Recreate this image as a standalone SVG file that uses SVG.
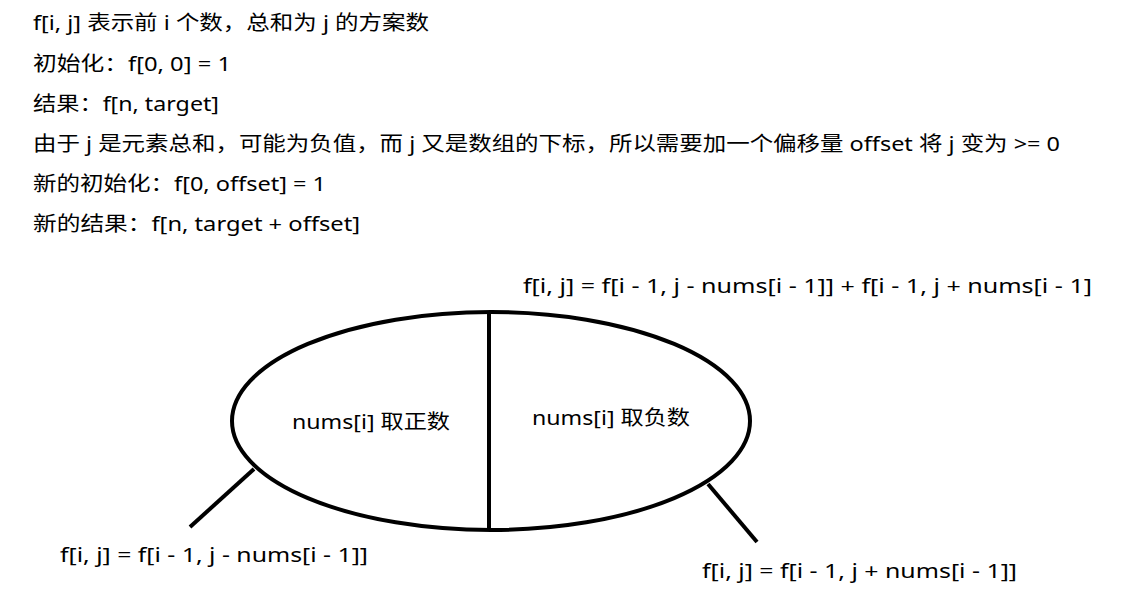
<svg xmlns="http://www.w3.org/2000/svg" width="1141" height="615" viewBox="0 0 1141 615">
<style>
text{font-family:"Noto Sans","Noto Sans CJK SC",sans-serif;font-size:20px;fill:#000}
.s{fill:none;stroke:#000;stroke-width:4}
</style>
<rect width="1141" height="615" fill="#fff"/>
<g id="notes">
<text x="33" y="30" textLength="396" lengthAdjust="spacingAndGlyphs">f[i, j] 表示前 i 个数，总和为 j 的方案数</text>
<text x="33" y="71" textLength="198" lengthAdjust="spacingAndGlyphs">初始化：f[0, 0] = 1</text>
<text x="33" y="111" textLength="186" lengthAdjust="spacingAndGlyphs">结果：f[n, target]</text>
<text x="33" y="151" textLength="1027" lengthAdjust="spacingAndGlyphs">由于 j 是元素总和，可能为负值，而 j 又是数组的下标，所以需要加一个偏移量 offset 将 j 变为 &gt;= 0</text>
<text x="33" y="191" textLength="293" lengthAdjust="spacingAndGlyphs">新的初始化：f[0, offset] = 1</text>
<text x="33" y="231" textLength="327" lengthAdjust="spacingAndGlyphs">新的结果：f[n, target + offset]</text>
</g>
<g id="ellipse">
<ellipse class="s" cx="491" cy="421" rx="259" ry="109"/>
<line class="s" x1="489" y1="312" x2="489" y2="530"/>
<text x="292" y="429" textLength="158" lengthAdjust="spacingAndGlyphs">nums[i] 取正数</text>
<text x="532" y="425" textLength="158" lengthAdjust="spacingAndGlyphs">nums[i] 取负数</text>
</g>
<g id="connectors">
<line class="s" x1="254" y1="469" x2="190" y2="527"/>
<line class="s" x1="708" y1="484" x2="757" y2="542"/>
</g>
<g id="formula-top">
<text x="523" y="293" textLength="569" lengthAdjust="spacingAndGlyphs">f[i, j] = f[i - 1, j - nums[i - 1]] + f[i - 1, j + nums[i - 1]</text>
</g>
<g id="formula-left">
<text x="60" y="562" textLength="308" lengthAdjust="spacingAndGlyphs">f[i, j] = f[i - 1, j - nums[i - 1]]</text>
</g>
<g id="formula-right">
<text x="702" y="578" textLength="315" lengthAdjust="spacingAndGlyphs">f[i, j] = f[i - 1, j + nums[i - 1]]</text>
</g>
</svg>
